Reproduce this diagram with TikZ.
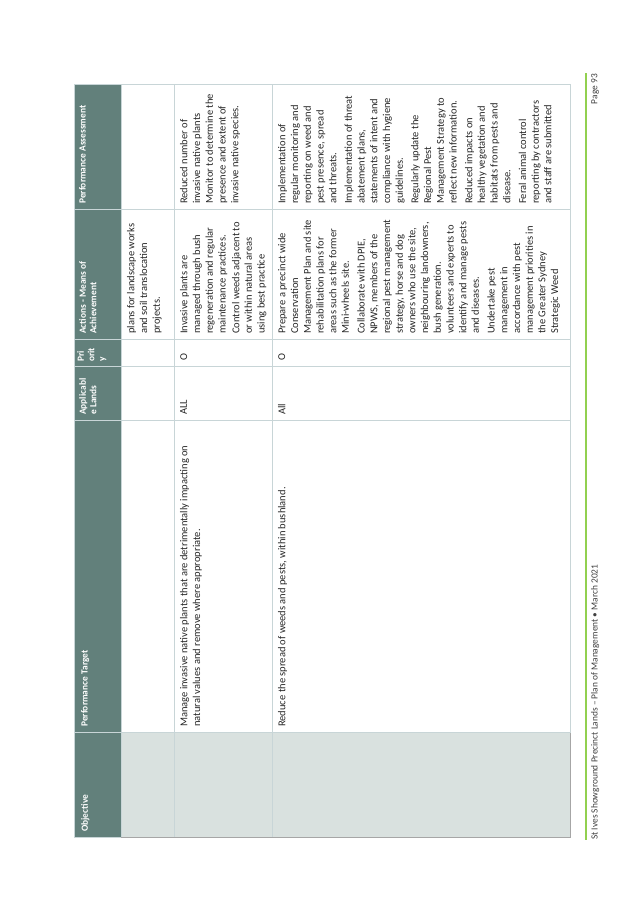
\documentclass[tikz,border=0pt]{standalone}
\usepackage{fontspec}
\setmainfont{Carlito}
\definecolor{headfill}{HTML}{62807B}
\definecolor{objfill}{HTML}{D9E1DF}
\definecolor{rulegrey}{HTML}{C8D5D7}
\definecolor{footgreen}{HTML}{92D050}
\definecolor{foottext}{HTML}{404040}

\begin{document}
\begin{tikzpicture}[x=1pt, y=1pt,
	cell/.style={rotate=90, anchor=north west, align=left, inner sep=0pt, font=\fontsize{10.5}{12.7}\selectfont, text=black!85},
	headtext/.style={rotate=90, anchor=north west, align=left, inner sep=0pt, font=\fontsize{9.4}{10.6}\selectfont\bfseries, text=white}]

	\useasboundingbox (0,0) rectangle (638,900);

	% rows (x) and columns (y)
	\def\xa{74}
	\def\xb{121}
	\def\xc{174}
	\def\xd{272}
	\def\xe{570}
	\def\ytop{815}
	\def\yact{690}
	\def\ypri{560}
	\def\yapp{533}
	\def\ypt{479}
	\def\yobj{167}
	\def\ybot{62}

	\fill[headfill] (\xa,\ybot) rectangle (\xb,\ytop);
	\fill[objfill] (\xb,\ybot) rectangle (\xe,\yobj);
	\draw[rulegrey, line width=1pt] (\xa,\ybot) rectangle (\xe,\ytop);
	\foreach \x in {\xb,\xc,\xd}
		\draw[rulegrey, line width=1pt] (\x,\ybot) -- (\x,\ytop);
	\foreach \y in {\yact,\ypri,\yapp,\ypt,\yobj}
		\draw[rulegrey, line width=1pt] (\xa,\y) -- (\xe,\y);
	\draw[black!35, line width=1pt] (\xb,\ybot) -- (\xe,\ybot) -- (\xe,\yobj);

	% header
	\node[headtext] (hobj) at (\xa+7,\ybot+6) {Objective};
	\node[headtext] (hpt) at (\xa+7,\yobj+6) {Performance Target};
	\node[headtext] (happ) at (\xa+5,\ypt+6) {Applicabl\\e Lands};
	\node[headtext] (hpri) at (\xa+3,\yapp+5) {Pri\\orit\\y};
	\node[headtext] (hact) at (\xa+5,\ypri+6) {Actions - Means of\\Achievement};
	\node[headtext] (hpa) at (\xa+5,\yact+6) {Performance Assessment};

	% row 1
	\node[cell] (act1) at (\xb+6,\ypri+6) {plans for landscape works\\and soil translocation\\projects.};

	% row 2
	\node[cell] (pt2) at (\xc+6,\yobj+6) {Manage invasive native plants that are detrimentally impacting on\\natural values and remove where appropriate.};
	\node[cell] (app2) at (\xc+6,\ypt+6) {ALL};
	\node[cell] (pri2) at (\xc+6,\yapp+6) {O};
	\node[cell] (act2) at (\xc+6,\ypri+6) {Invasive plants are\\managed through bush\\regeneration and regular\\maintenance practices.\\[1pt]
		Control weeds adjacent to\\or within natural areas\\using best practice};
	\node[cell] (pa2) at (\xc+6,\yact+6) {Reduced number of\\invasive native plants\\Monitor to determine the\\presence and extent of\\invasive native species.};

	% row 3
	\node[cell] (pt3) at (\xd+6,\yobj+6) {Reduce the spread of weeds and pests, within bushland.};
	\node[cell] (app3) at (\xd+6,\ypt+6) {All};
	\node[cell] (pri3) at (\xd+6,\yapp+6) {O};
	\node[cell] (act3) at (\xd+6,\ypri+6) {Prepare a precinct wide\\Conservation\\Management Plan and site\\rehabilitation plans for\\areas such as the former\\Mini-wheels site.\\[3pt]
		Collaborate with DPIE,\\NPWS, members of the\\regional pest management\\strategy, horse and dog\\owners who use the site,\\neighbouring landowners,\\bush generation.\\volunteers and experts to\\identify and manage pests\\and diseases.\\[3pt]
		Undertake pest\\management in\\accordance with pest\\management priorities in\\the Greater Sydney\\Strategic Weed};
	\node[cell] (pa3) at (\xd+6,\yact+6) {Implementation of\\regular monitoring and\\reporting on weed and\\pest presence, spread\\and threats.\\[3pt]
		Implementation of threat\\abatement plans,\\statements of intent and\\compliance with hygiene\\guidelines.\\[3pt]
		Regularly update the\\Regional Pest\\Management Strategy to\\reflect new information.\\[3pt]
		Reduced impacts on\\healthy vegetation and\\habitats from pests and\\disease.\\[3pt]
		Feral animal control\\reporting by contractors\\and staff are submitted};

	% footer
	\draw[footgreen, line width=2pt] (586,60) -- (586,827);
	\node[cell, font=\fontsize{9.4}{11}\selectfont, text=foottext] (foot) at (591,60) {St Ives Showground Precinct Lands -- Plan of Management \textbullet{} March 2021};
	\node[cell, font=\fontsize{9.4}{11}\selectfont, text=foottext, anchor=north east] (page) at (591,826) {Page 93};

\end{tikzpicture}
\end{document}
